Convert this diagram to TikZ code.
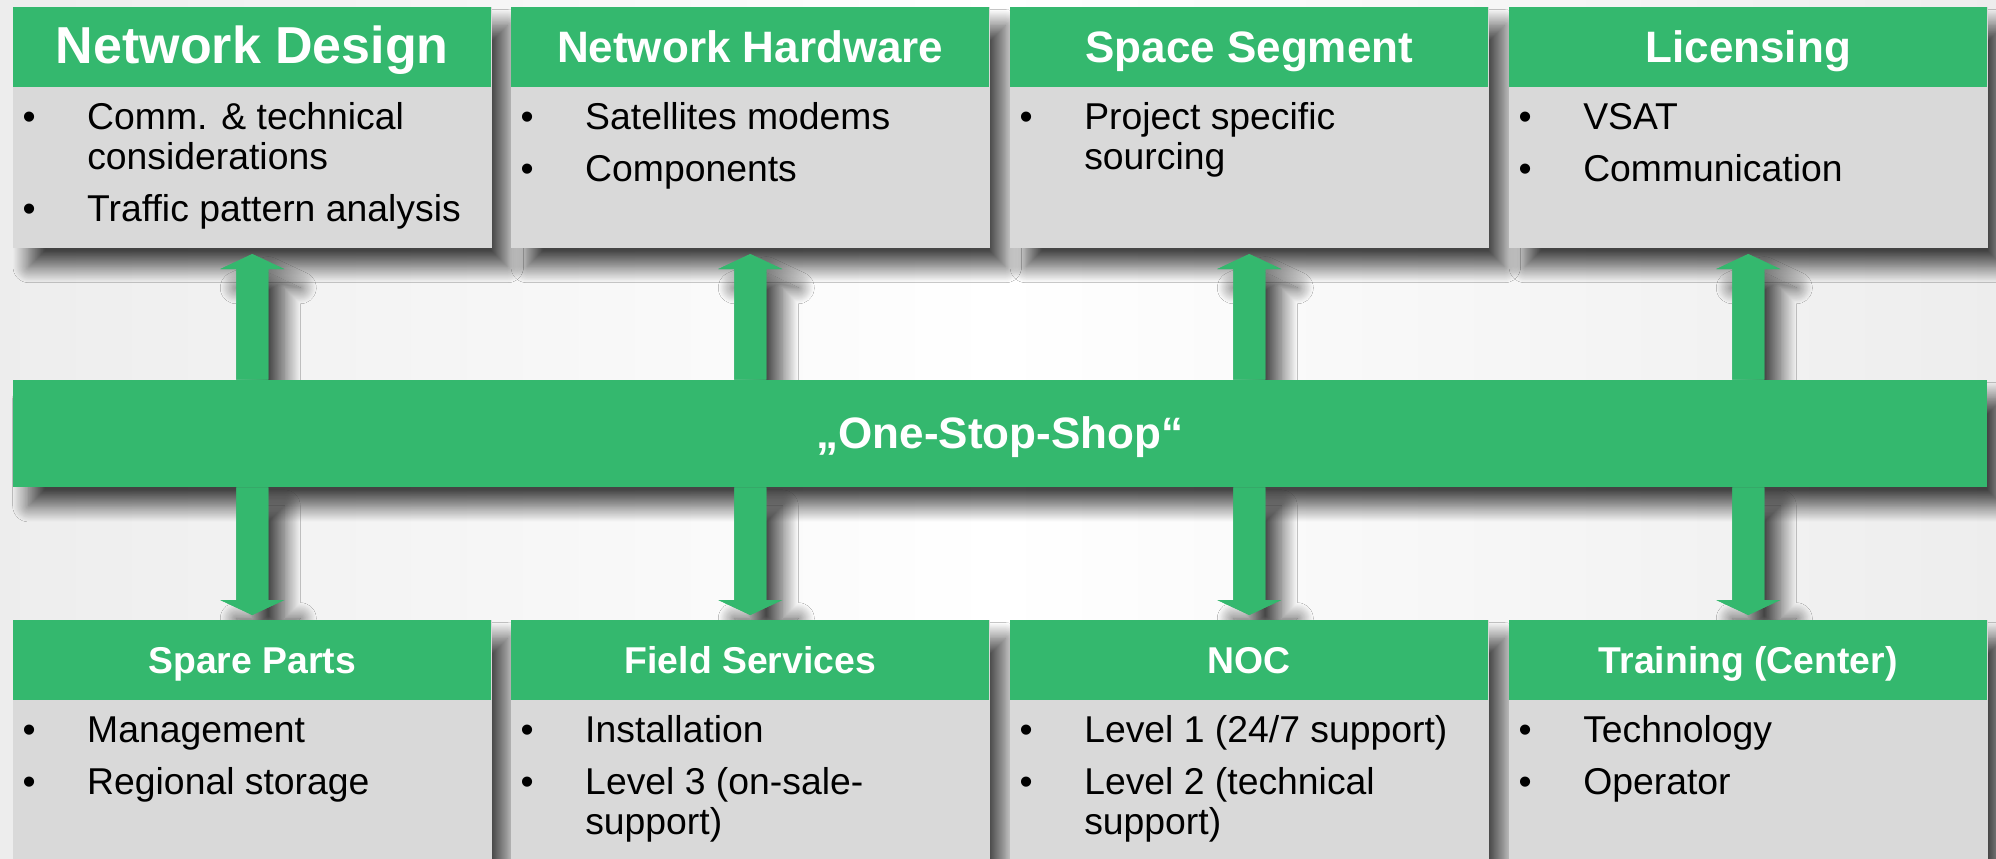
\documentclass[tikz,border=0pt]{standalone}
\usepackage{fontspec}
\setmainfont{Liberation Sans}
\usepackage{tikz}
\usetikzlibrary{calc}
\usetikzlibrary{positioning}
\usetikzlibrary{shadows.blur}
\definecolor{ossgreen}{RGB}{52,184,110}
\definecolor{boxgrey}{RGB}{217,217,217}
\pgfdeclarelayer{back}
\pgfsetlayers{back,main}
\newcommand{\itm}[1]{\par\noindent\llap{\textbullet\hspace{38.6pt}}\strut#1\par\vspace{9pt}}
\newcommand{\blist}[2]{\parbox[c][#1][t]{358.5pt}{\fontsize{28}{30}\selectfont\leftskip=55.5pt\rightskip=0pt plus 1fil\parindent=0pt\vspace*{10.5pt}#2}}
\newcommand{\uparr}[3]{\coordinate (base) at (#2.south |- #3.north);
  \fill[#1] ($(#2.south)+(0,6)$) -- ++(32,15) -- ++(-16,0) -- ($(base)+(16,0)$) -- ($(base)+(-16,0)$) -- ($(#2.south)+(-16,21)$) -- ++(-16,0) -- cycle;}
\newcommand{\dnarr}[3]{\coordinate (base) at (#2.north |- #3.south);
  \fill[#1] ($(#2.north)+(0,-5)$) -- ++(32,-15) -- ++(-16,0) -- ($(base)+(16,0)$) -- ($(base)+(-16,0)$) -- ($(#2.north)+(-16,-20)$) -- ++(-16,0) -- cycle;}
\tikzset{
  shd/.style={blur shadow={shadow xshift=12pt, shadow yshift=-14pt, shadow blur radius=12pt, shadow blur steps=24, shadow opacity=72}},
  head/.style={fill=ossgreen, text=white, font=\fontsize{33}{36}\selectfont\bfseries, minimum width=358.5pt, minimum height=60pt, inner sep=0pt, text height=23.8pt, text depth=1.3pt},
  bhead/.style={head, font=\fontsize{28}{32}\selectfont\bfseries, text height=20.5pt, text depth=1pt},
  bodybox/.style={fill=boxgrey, inner sep=0pt},
  arr/.style={fill=ossgreen}
}

\begin{document}
\begin{tikzpicture}[x=0.75pt, y=-0.75pt]
    \useasboundingbox (0,0) rectangle (1996,859);

    %top boxes
    \node[head, anchor=north west, font=\fontsize{39}{44}\selectfont\bfseries, text height=26pt, text depth=2pt] (des) at (13,7) {Network Design};
    \node[bodybox, below=0pt of des] (desb) {\blist{120pt}{\itm{Comm. \& technical\\considerations}\itm{Traffic pattern analysis}}};
    \node[head, anchor=north west] (hw) at (511,7) {Network Hardware};
    \node[bodybox, below=0pt of hw] (hwb) {\blist{120pt}{\itm{Satellites modems}\itm{Components}}};
    \node[head, anchor=north west] (seg) at (1010,7) {Space Segment};
    \node[bodybox, below=0pt of seg] (segb) {\blist{120pt}{\itm{Project specific\\sourcing}}};
    \node[head, anchor=north west] (lic) at (1509,7) {Licensing};
    \node[bodybox, below=0pt of lic] (licb) {\blist{120pt}{\itm{VSAT}\itm{Communication}}};

    %bar
    \node[head, minimum width=1480.5pt, minimum height=80.25pt] (oss) at (1000,433.5) {„One-Stop-Shop“};

    %bottom boxes
    \node[bhead, anchor=north west] (spa) at (13,620) {Spare Parts};
    \node[bodybox, below=0pt of spa] (spab) {\blist{135pt}{\itm{Management}\itm{Regional storage}}};
    \node[bhead, anchor=north west] (fld) at (511,620) {Field Services};
    \node[bodybox, below=0pt of fld] (fldb) {\blist{135pt}{\itm{Installation}\itm{Level 3 (on-sale-\\support)}}};
    \node[bhead, anchor=north west] (noc) at (1010,620) {NOC};
    \node[bodybox, below=0pt of noc] (nocb) {\blist{135pt}{\itm{Level 1 (24/7 support)}\itm{Level 2 (technical\\support)}}};
    \node[bhead, anchor=north west] (trn) at (1509,620) {Training (Center)};
    \node[bodybox, below=0pt of trn] (trnb) {\blist{135pt}{\itm{Technology}\itm{Operator}}};

    %arrows
    \uparr{arr}{desb}{oss}
    \uparr{arr}{hwb}{oss}
    \uparr{arr}{segb}{oss}
    \uparr{arr}{licb}{oss}
    \dnarr{arr}{spa}{oss}
    \dnarr{arr}{fld}{oss}
    \dnarr{arr}{noc}{oss}
    \dnarr{arr}{trn}{oss}

    %background and shadows
    \begin{pgfonlayer}{back}
    \fill[left color=gray!14, right color=gray!14, middle color=white] (0,0) rectangle (1996,859);
    \fill[boxgrey, shd] (des.north west) rectangle (desb.south east);
    \fill[boxgrey, shd] (hw.north west) rectangle (hwb.south east);
    \fill[boxgrey, shd] (seg.north west) rectangle (segb.south east);
    \fill[boxgrey, shd] (lic.north west) rectangle (licb.south east);
    \fill[ossgreen, shd] (oss.north west) rectangle (oss.south east);
    \fill[boxgrey, shd] (spa.north west) rectangle (spab.south east);
    \fill[boxgrey, shd] (fld.north west) rectangle (fldb.south east);
    \fill[boxgrey, shd] (noc.north west) rectangle (nocb.south east);
    \fill[boxgrey, shd] (trn.north west) rectangle (trnb.south east);
    \uparr{arr,shd}{desb}{oss}
    \uparr{arr,shd}{hwb}{oss}
    \uparr{arr,shd}{segb}{oss}
    \uparr{arr,shd}{licb}{oss}
    \dnarr{arr,shd}{spa}{oss}
    \dnarr{arr,shd}{fld}{oss}
    \dnarr{arr,shd}{noc}{oss}
    \dnarr{arr,shd}{trn}{oss}
    \end{pgfonlayer}
\end{tikzpicture}
\end{document}
